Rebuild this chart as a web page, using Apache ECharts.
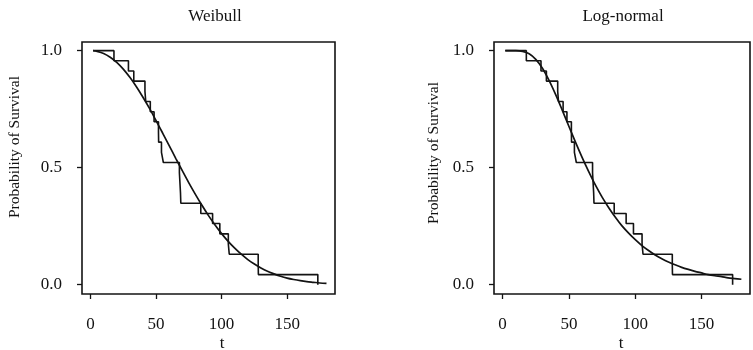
<!DOCTYPE html>
<html>
<head>
<meta charset="utf-8">
<script src="https://cdn.jsdelivr.net/npm/echarts@6/dist/echarts.min.js"></script>
<style>
  html, body { margin: 0; padding: 0; background: #fff; }
  #chart { width: 753px; height: 350px; }
</style>
</head>
<body>
<div id="chart"></div>
<script>
// Kaplan-Meier estimate: failure times (millions of revolutions) and survival after each
const kmTimes    = [2, 17.88, 28.92, 33.00, 41.52, 42.12, 45.60, 48.48, 51.84, 51.96, 54.12, 55.56,
                    67.80, 68.64, 68.88, 84.12, 93.12, 98.64, 105.12, 105.84, 127.92, 128.04, 173.40];
const kmSurvival = [1.000, 0.957, 0.913, 0.870, 0.826, 0.783, 0.739, 0.696, 0.652, 0.609, 0.565, 0.522,
                    0.478, 0.391, 0.348, 0.304, 0.261, 0.217, 0.174, 0.130, 0.087, 0.043, 0.000];

// Fitted parametric survival curves
const fitTimes     = [2, 5, 10, 15, 20, 25, 30, 35, 40, 45, 50, 55, 60, 65, 70, 75, 80, 85, 90, 95,
                      100, 105, 110, 115, 120, 125, 130, 135, 140, 145, 150, 155, 160, 165, 170, 175, 180];
const weibullFit   = [1.000, 0.997, 0.988, 0.972, 0.950, 0.921, 0.886, 0.846, 0.801, 0.753, 0.701, 0.648,
                      0.594, 0.540, 0.487, 0.435, 0.386, 0.339, 0.295, 0.255, 0.218, 0.185, 0.156, 0.130,
                      0.107, 0.088, 0.071, 0.057, 0.046, 0.036, 0.028, 0.022, 0.017, 0.013, 0.010, 0.007, 0.005];
const lognormalFit = [1.000, 1.000, 1.000, 0.997, 0.987, 0.963, 0.925, 0.873, 0.812, 0.745, 0.676, 0.608,
                      0.543, 0.482, 0.425, 0.374, 0.329, 0.288, 0.251, 0.220, 0.192, 0.167, 0.146, 0.127,
                      0.111, 0.097, 0.085, 0.074, 0.065, 0.057, 0.050, 0.043, 0.038, 0.034, 0.029, 0.026, 0.023];

const panelTitles = ['Weibull', 'Log-normal'];
const xTicks = [0, 50, 100, 150];
const yTicks = [0, 0.5, 1.0];

const INK = '#131313';
const FONT = '"Liberation Serif", "DejaVu Serif", serif';

const zip = (xs, ys) => xs.map((x, i) => [x, ys[i]]);

const grids = [
  { left: 82, top: 42, width: 253, height: 252 },
  { left: 494, top: 42, width: 256, height: 252 }
];

function xAxisFor(i) {
  return {
    type: 'value', gridIndex: i, min: -6.5, max: 186.5, position: 'bottom',
    axisLine: { show: false, onZero: false },
    splitLine: { show: false },
    axisTick: { show: true, customValues: xTicks, length: 5, lineStyle: { color: INK, width: 1.3 } },
    axisLabel: { customValues: xTicks, margin: 22, color: INK, fontFamily: FONT, fontSize: 17 }
  };
}
function yAxisFor(i) {
  return {
    type: 'value', gridIndex: i, min: -0.04, max: 1.037, position: 'left',
    axisLine: { show: false, onZero: false },
    splitLine: { show: false },
    axisTick: { show: true, customValues: yTicks, length: 5, lineStyle: { color: INK, width: 1.3 } },
    axisLabel: { customValues: yTicks, margin: 20, color: INK, fontFamily: FONT, fontSize: 17,
                 formatter: v => v.toFixed(1) }
  };
}

const stepStyle = { color: INK, width: 1.6 };
const curveStyle = { color: INK, width: 1.7 };

const series = [];
[weibullFit, lognormalFit].forEach((fit, i) => {
  series.push({
    type: 'line', xAxisIndex: i, yAxisIndex: i, step: 'end', symbol: 'none',
    data: zip(kmTimes, kmSurvival), lineStyle: stepStyle, silent: true
  });
  series.push({
    type: 'line', xAxisIndex: i, yAxisIndex: i, smooth: 0.3, symbol: 'none',
    data: zip(fitTimes, fit), lineStyle: curveStyle, silent: true
  });
});

const textStyle = { fill: INK, font: '17px ' + FONT, textAlign: 'center', textVerticalAlign: 'middle' };
const yNameStyle = Object.assign({}, textStyle, { font: '15.5px ' + FONT });

const graphic = [
  { type: 'text', x: 215, y: 17, style: Object.assign({ text: panelTitles[0] }, textStyle) },
  { type: 'text', x: 623, y: 17, style: Object.assign({ text: panelTitles[1] }, textStyle) },
  { type: 'text', x: 15, y: 147, rotation: Math.PI / 2, style: Object.assign({ text: 'Probability of Survival' }, yNameStyle) },
  { type: 'text', x: 434, y: 153, rotation: Math.PI / 2, style: Object.assign({ text: 'Probability of Survival' }, yNameStyle) },
  { type: 'text', x: 222, y: 344, style: Object.assign({ text: 't' }, textStyle) },
  { type: 'text', x: 621, y: 344, style: Object.assign({ text: 't' }, textStyle) }
];

const chart = echarts.init(document.getElementById('chart'), null, { renderer: 'canvas' });
chart.setOption({
  animation: false,
  backgroundColor: '#fff',
  grid: grids.map(g => Object.assign({ show: true, borderColor: INK, borderWidth: 1.6,
                                       backgroundColor: 'transparent' }, g)),
  xAxis: [xAxisFor(0), xAxisFor(1)],
  yAxis: [yAxisFor(0), yAxisFor(1)],
  series: series,
  graphic: graphic
});
</script>
</body>
</html>
